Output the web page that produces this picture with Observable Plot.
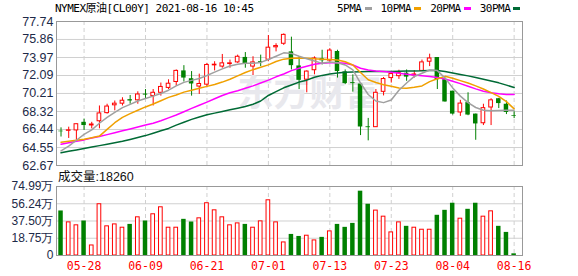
<!DOCTYPE html>
<html><head><meta charset="utf-8">
<script src="https://cdn.jsdelivr.net/npm/d3@7"></script>
<script src="https://cdn.jsdelivr.net/npm/@observablehq/plot@0.6"></script>
<style>
body{margin:0;background:#fff;}
#wrap{position:relative;width:578px;height:276px;overflow:hidden;background:#fff;}
.mono{font-family:"DejaVu Sans Mono","Noto Sans CJK SC",monospace;font-size:11px;letter-spacing:-0.5px;color:#000;position:absolute;white-space:nowrap;line-height:13px;}
#title{left:55px;top:2px;}
#legend{left:337px;top:2px;display:flex;align-items:center;}
#legend span.sw{display:inline-block;width:7px;height:3px;margin:0 9px 0 3px;}
#vlabel{position:absolute;left:58px;top:169px;font-family:"Liberation Sans","Noto Sans CJK SC",sans-serif;font-size:12.5px;line-height:16px;color:#111;white-space:nowrap;}
#main{position:absolute;left:0;top:0;}
#vol{position:absolute;left:0;top:170px;}
</style></head><body>
<div id="wrap">
  <div id="title" class="mono"></div>
  <div id="legend" class="mono"></div>
  <div id="main"></div>
  <div id="vol"></div>
  <div id="vlabel"></div>
</div>
<script>
const chartTitle = "NYMEX原油[CL00Y] 2021-08-16 10:45";
const dates = ["05-25","05-26","05-27","05-28","05-31","06-01","06-02","06-03","06-04","06-07","06-08","06-09","06-10","06-11","06-14","06-15","06-16","06-17","06-18","06-21","06-22","06-23","06-24","06-25","06-28","06-29","06-30","07-01","07-02","07-05","07-06","07-07","07-08","07-09","07-12","07-13","07-14","07-15","07-16","07-19","07-20","07-21","07-22","07-23","07-26","07-27","07-28","07-29","07-30","08-02","08-03","08-04","08-05","08-06","08-09","08-10","08-11","08-12","08-13","08-16"];
const open  = [66.26,66.30,66.34,67.19,66.86,67.30,68.15,68.97,69.14,69.56,69.49,70.14,69.93,70.28,70.79,71.41,72.57,71.75,70.93,71.13,73.15,73.02,73.29,73.46,73.98,73.02,73.53,73.74,75.04,75.41,74.56,73.09,71.65,72.64,73.84,73.65,74.60,72.47,71.34,71.20,66.72,66.68,70.38,71.82,72.02,72.33,72.09,72.57,73.53,73.97,71.65,70.45,68.22,69.25,68.05,67.09,68.74,69.66,69.08,67.88];
const high  = [66.61,66.68,67.00,67.53,67.19,68.90,69.08,69.42,69.76,70.00,70.38,70.62,70.62,71.30,71.64,72.67,73.12,72.50,72.23,73.36,73.53,74.29,73.70,74.22,74.49,74.05,74.22,76.27,75.41,76.44,76.10,74.04,72.57,74.04,74.73,74.90,74.73,72.67,72.16,71.24,67.60,70.62,71.88,72.36,72.64,72.67,72.60,73.70,74.32,73.97,71.82,70.45,69.49,70.28,68.05,69.08,69.66,69.70,69.42,68.29];
const low   = [65.65,65.50,65.31,66.34,66.51,66.51,68.05,68.39,68.90,69.08,69.08,69.59,68.90,69.93,70.62,70.96,71.41,69.93,70.11,70.86,72.57,72.85,72.85,73.36,72.85,72.09,73.02,73.53,74.56,75.24,72.67,70.62,70.28,72.16,73.19,73.36,71.82,71.13,70.35,65.80,65.25,66.65,69.95,71.30,71.68,71.48,71.82,72.50,73.02,70.62,69.30,67.95,67.81,67.88,65.31,66.85,66.85,68.63,68.00,67.58];
const close = [66.20,66.35,66.99,66.85,66.96,68.12,68.84,69.14,69.45,69.42,70.10,70.04,70.28,70.89,71.23,72.57,71.82,71.20,71.20,73.19,73.22,73.36,73.36,74.05,73.26,73.46,73.43,75.00,75.17,76.34,73.12,71.58,72.50,73.87,73.63,74.70,72.50,71.24,71.24,66.70,66.63,70.28,71.72,72.24,72.34,71.92,72.20,73.46,73.87,71.65,69.32,68.05,69.15,67.95,67.02,68.67,69.49,69.15,68.22,67.81];
const ma5  = [64.21,64.69,65.31,65.92,66.40,67.09,67.70,68.22,68.73,69.07,69.42,69.69,69.93,70.20,70.55,71.00,71.37,71.58,71.78,72.09,72.44,72.78,73.09,73.26,73.36,73.36,73.46,73.77,74.11,74.46,74.40,74.10,73.85,73.60,73.36,73.50,73.43,73.19,72.67,71.30,70.10,69.42,69.25,69.52,70.55,71.30,71.99,72.33,72.67,72.60,71.82,70.79,69.93,69.25,68.74,68.46,68.39,68.43,68.46,68.46];
const ma10 = [65.10,65.20,65.31,65.41,65.58,65.75,66.45,67.15,67.70,68.10,68.45,68.80,69.10,69.45,69.80,70.05,70.35,70.55,70.75,70.95,71.15,71.40,71.70,72.05,72.40,72.70,72.95,73.20,73.55,73.80,73.90,73.92,73.90,73.84,73.80,73.77,73.70,73.53,73.19,72.40,71.65,71.35,71.13,70.96,70.79,70.76,70.86,71.00,71.45,71.75,72.00,71.80,71.55,71.30,71.00,70.68,70.30,69.90,69.35,68.60];
const ma20 = [64.90,65.05,65.20,65.35,65.55,65.70,65.90,66.10,66.30,66.50,66.70,66.90,67.10,67.35,67.65,67.95,68.30,68.65,68.98,69.30,69.66,70.00,70.28,70.50,70.75,71.00,71.30,71.60,71.95,72.25,72.60,72.85,73.05,73.26,73.36,73.43,73.43,73.36,73.19,72.85,72.67,72.57,72.50,72.43,72.33,72.23,72.13,72.06,71.99,71.89,71.72,71.48,71.24,70.96,70.69,70.45,70.28,70.17,70.10,70.10];
const ma30 = [64.00,64.15,64.30,64.45,64.60,64.75,64.90,65.05,65.20,65.40,65.60,65.80,66.05,66.30,66.55,66.90,67.20,67.50,67.75,67.98,68.15,68.32,68.50,68.67,68.84,69.08,69.42,70.00,70.40,70.80,71.10,71.40,71.60,71.90,72.10,72.25,72.35,72.42,72.45,72.47,72.50,72.50,72.52,72.52,72.53,72.55,72.56,72.58,72.62,72.60,72.50,72.35,72.20,72.05,71.88,71.70,71.52,71.32,71.08,70.83];
// volume in 万 (10,000 contracts)
const volume = [48.4,36.0,32.8,37.5,10.9,55.7,31.7,33.8,30.2,33.8,41.5,37.5,44.8,52.4,30.2,30.2,39.3,36.4,40.4,56.8,49.1,41.5,32.8,34.9,33.8,30.2,37.1,60.0,36.0,14.2,22.9,20.7,21.5,16.4,19.7,26.2,33.8,30.6,34.9,69.9,55.7,48.8,42.2,25.1,36.0,31.7,30.2,28.0,28.0,43.7,49.1,56.8,40.0,50.2,56.8,42.2,48.0,31.7,25.1,1.826];
const volUp = [0,1,1,0,1,1,1,1,1,0,1,0,1,1,1,1,0,0,1,1,1,1,1,1,0,1,1,1,1,1,0,0,1,1,0,1,0,0,0,0,0,1,1,1,1,0,1,1,1,0,0,0,1,0,0,1,1,0,0,0];
const tickDates = ["05-28","06-09","06-21","07-01","07-13","07-23","08-04","08-16"];
const priceLabels = ["62.67","64.55","66.44","68.32","70.21","72.09","73.97","75.86","77.74"];
const volLabels = ["0","18.75万","37.50万","56.24万","74.99万"];
const volTicks = [0,18.75,37.50,56.24,74.99];
const maNames = ["5PMA","10PMA","20PMA","30PMA"];
const maColors = ["#a0a0a0","#f0a000","#ff00ff","#006a35"];

const RED = "#ff0000", GREEN = "#008000", GRID = "#d0d0d0", FRAME = "#999";
const priceTicks = priceLabels.map(Number);
const tickIdx = tickDates.map(d => dates.indexOf(d));
const rows = dates.map((d, i) => ({i, d, o: open[i], h: high[i], l: low[i], c: close[i],
  m5: ma5[i], m10: ma10[i], m20: ma20[i], m30: ma30[i], v: volume[i], vu: volUp[i] === 1}));
const up = rows.filter(r => r.c >= r.o), dn = rows.filter(r => r.c < r.o);
const xDom = [-0.59, 60.09];
const sansFont = "Liberation Sans, Arial, sans-serif";

document.getElementById("title").textContent = chartTitle;
const lg = document.getElementById("legend");
maNames.forEach((n, k) => {
  const t = document.createElement("span"); t.textContent = n; lg.appendChild(t);
  const s = document.createElement("span"); s.className = "sw"; s.style.background = maColors[k]; lg.appendChild(s);
});
document.getElementById("vlabel").textContent = "成交量:" + Math.round(volume[volume.length - 1] * 10000);

const main = Plot.plot({
  width: 578, height: 176,
  marginLeft: 56, marginRight: 56, marginTop: 21, marginBottom: 11,
  x: {type: "linear", domain: xDom, axis: null},
  y: {domain: [priceTicks[0], priceTicks[priceTicks.length - 1]], axis: null},
  style: {background: "transparent", fontSize: "12.5px", fontFamily: sansFont, color: "#1d2a48"},
  marks: [
    Plot.ruleY(priceTicks, {stroke: GRID}),
    Plot.ruleX(tickIdx, {stroke: GRID, strokeDasharray: "4,3"}),
    Plot.text(["东方财富"], {frameAnchor: "middle", dx: 20, dy: 1, fontSize: 36, fontWeight: "bold", fill: "#e8e8ed", fontFamily: "Noto Sans CJK SC"}),
    Plot.ruleX(up, {x: "i", y1: "l", y2: "h", stroke: RED}),
    Plot.ruleX(dn, {x: "i", y1: "l", y2: "h", stroke: GREEN}),
    Plot.rect(up, {x1: d => d.i - 0.5, x2: d => d.i + 0.5, y1: "o", y2: "c", fill: "white", stroke: RED, insetLeft: 2, insetRight: 2}),
    Plot.rect(dn, {x1: d => d.i - 0.5, x2: d => d.i + 0.5, y1: "o", y2: "c", fill: GREEN, insetLeft: 1.6, insetRight: 1.6}),
    Plot.line(rows, {x: "i", y: "m30", stroke: maColors[3]}),
    Plot.line(rows, {x: "i", y: "m20", stroke: maColors[2]}),
    Plot.line(rows, {x: "i", y: "m10", stroke: maColors[1]}),
    Plot.line(rows, {x: "i", y: "m5", stroke: maColors[0]}),
    Plot.axisY({ticks: priceTicks, tickFormat: d => priceLabels[priceTicks.indexOf(d)], tickSize: 0, tickPadding: 3, fontSize: 12.5, label: null}),
    Plot.frame({stroke: FRAME})
  ]
});
document.getElementById("main").appendChild(main);

const vu = rows.filter(r => r.vu), vd = rows.filter(r => !r.vu);
const vol = Plot.plot({
  width: 578, height: 106,
  marginLeft: 56, marginRight: 56, marginTop: 16, marginBottom: 21,
  x: {type: "linear", domain: xDom, axis: null},
  y: {domain: [volTicks[0], volTicks[volTicks.length - 1]], axis: null},
  style: {background: "transparent", fontSize: "12px", fontFamily: sansFont, color: "#1d2a48"},
  marks: [
    Plot.ruleY(volTicks, {stroke: GRID}),
    Plot.ruleX(tickIdx, {stroke: GRID, strokeDasharray: "4,3"}),
    Plot.rect(vu, {x1: d => d.i - 0.5, x2: d => d.i + 0.5, y1: 0, y2: "v", fill: "white", stroke: RED, insetLeft: 2, insetRight: 2}),
    Plot.rect(vd, {x1: d => d.i - 0.5, x2: d => d.i + 0.5, y1: 0, y2: "v", fill: GREEN, insetLeft: 1.6, insetRight: 1.6}),
    Plot.axisY({ticks: volTicks, tickFormat: d => volLabels[volTicks.indexOf(d)], tickSize: 0, tickPadding: 3, fontSize: 12, label: null}),
    Plot.axisX({ticks: tickIdx, tickFormat: i => dates[i], tickSize: 0, tickPadding: 6, fill: RED, fontSize: 11.5, fontFamily: "DejaVu Sans Mono, monospace", label: null}),
    Plot.frame({stroke: FRAME})
  ]
});
document.getElementById("vol").appendChild(vol);
</script>
</body></html>
